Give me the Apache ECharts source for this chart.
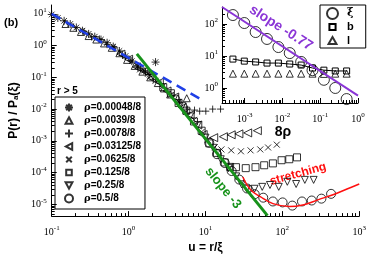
<!DOCTYPE html>
<html><head><meta charset="utf-8">
<script src="https://cdn.jsdelivr.net/npm/echarts@6/dist/echarts.min.js"></script>
<style>html,body{margin:0;padding:0;background:#fff}#c{width:369px;height:259px}</style>
</head><body><div id="c"></div>
<script>
// ---------- data (u = r/xi , P(r)/Pa(xi)) ----------
const seriesNames = ['ρ=0.00048/8','ρ=0.0039/8','ρ=0.0078/8','ρ=0.03125/8','ρ=0.0625/8','ρ=0.125/8','ρ=0.25/8','ρ=0.5/8'];
const sA = [[0.1,9.55],[0.12,7.41],[0.145,6.03],[0.174,4.79],[0.209,3.72],[0.251,2.95],[0.302,2.34],[0.363,1.91],[0.437,1.55],[0.525,1.23],[0.631,0.933],[0.759,0.676],[0.912,0.468],[1.10,0.324],[1.32,0.224],[1.58,0.162],[1.86,0.123],[2.24,0.302]];
const sB = [[0.151,4.79],[0.191,3.63],[0.24,2.69],[0.302,2.0],[0.38,1.55],[0.479,1.17],[0.603,0.851],[0.759,0.575],[0.955,0.355],[1.2,0.229],[1.51,0.151],[1.91,0.1],[2.4,0.0661],[2.88,0.0447],[3.47,0.0288],[4.37,0.022],[5.7,0.022]];
const sC = [[0.263,2.75],[0.331,1.86],[0.417,1.62],[0.525,1.07],[0.661,0.851],[0.832,0.49],[1.05,0.347],[1.32,0.2],[1.66,0.148],[2.09,0.0871],[2.63,0.0631],[3.16,0.0372],[3.8,0.0263],[4.57,0.0158],[5.85,0.01],[7.2,0.0093],[8.4,0.0086],[10.1,0.0086],[12.4,0.01],[15.7,0.01]];
const sD = [[0.794,0.537],[1.0,0.372],[1.26,0.214],[1.58,0.158],[2.0,0.0933],[2.51,0.0692],[3.16,0.0372],[3.98,0.024],[5.01,0.0112],[6.31,0.0066],[7.94,0.00316],[9.33,0.00158],[12.8,0.00126],[17.1,0.00135],[21.6,0.00155],[27.2,0.00166],[35.4,0.00178],[47.3,0.00209]];
const sE = [[1.41,0.178],[1.78,0.129],[2.24,0.0776],[2.82,0.0537],[3.55,0.0282],[4.47,0.017],[5.62,0.00813],[7.08,0.00457],[8.91,0.00191],[10.7,0.00107],[13.2,0.00063],[16.1,0.000537],[21.6,0.000501],[28.9,0.000468],[38.6,0.000501],[51.6,0.000537],[65.2,0.000617],[84.6,0.000759]];
const sF = [[2.82,0.049],[3.55,0.0316],[4.47,0.0155],[5.62,0.00891],[7.08,0.00407],[8.91,0.00209],[11.2,0.000832],[14.1,0.000417],[17.8,0.000209],[20.9,0.000151],[24.9,0.000148],[33.4,0.000138],[44.7,0.000148],[58,0.00017],[75.3,0.000195],[97.7,0.000245],[123,0.000263],[155,0.000302]];
const sG = [[5.01,0.0123],[6.31,0.00589],[7.94,0.00316],[10,0.00126],[12.6,0.000603],[15.8,0.000263],[20,0.000138],[25.1,0.0000759],[29.5,0.0000427],[34.4,0.0000309],[43.4,0.0000309],[54.7,0.0000355],[69,0.0000407],[89.7,0.0000355],[116,0.0000513],[151,0.0000437],[196,0.0000589],[255,0.0000589]];
const sH = [[11.2,0.00087],[14.1,0.00038],[17.8,0.0002],[21.9,0.000112],[27.5,0.0000603],[34.7,0.0000316],[43.7,0.0000209],[56.4,0.0000162],[75.3,0.0000123],[100.7,0.0000115],[134.6,0.00000912],[180,0.0000123],[241,0.0000132],[322,0.0000151],[430,0.0000214]];
const stretchCurve = [[30.6,7.24e-5],[38.6,2.88e-5],[51.6,1.74e-5],[75.3,1.05e-5],[123,8.51e-6],[191,9.77e-6],[295,1.41e-5],[456,2.0e-5],[706,3.09e-5],[1000,4.37e-5]];
const blueFit = [[0.1,10],[9.0,0.0195]];
const slope3Line = [[1.28,0.55],[64,4.4e-6]];
// inset: 8rho vs xi, b, l
const inset8rho = [0.000488,0.000977,0.00195,0.0039,0.0078,0.0156,0.03125,0.0625,0.125,0.25,0.5];
const insetXi = [190,107,56,34,19,12.3,6.5,3.6,1.8,1.0,0.45];
const insetB = [8.0,6.9,6.5,6.0,6.0,5.6,5.2,4.2,3.6,3.4,3.4];
const insetL = [2.8,2.8,2.8,2.8,2.8,2.8,2.8,2.8,2.75,2.8,2.8];
const slope077Line = [[0.000251,339],[1.0,0.575]];
// axis ranges and major ticks
const mainXRange = [0.1, 1000];
const mainYRange = [4.26e-6, 19.0];
const insetXRange = [0.000251, 1];
const insetYRange = [0.339, 339];
const mainXTicks = [0.1,1,10,100,1000];
const mainYTicks = [1e-5,1e-4,1e-3,1e-2,1e-1,1,10];
const insetXTicks = [1e-3,1e-2,1e-1,1];
const insetYTicks = [1,10,100];

// ---------- helpers ----------
const L = Math.log10;
const tp = arr => arr.map(([u,p]) => [L(u), L(p)]);
const zipLog = (xs, ys) => xs.map((x,i) => [L(x), L(ys[i])]);
function minorTicks(lo, hi){
  const out=[];
  for(let e=Math.floor(lo)-1; e<=Math.ceil(hi); e++){
    for(let k=2;k<=9;k++){ const v=e+L(k); if(v>=lo-1e-9 && v<=hi+1e-9) out.push(v); }
  }
  return out;
}
const supLabel = v => '{b|10}{s|' + Math.round(v) + '}';
const tickRich = {
  b:{fontFamily:'Liberation Serif', fontSize:10, color:'#000', lineHeight:14},
  s:{fontFamily:'Liberation Serif', fontSize:7, color:'#000', verticalAlign:'top', lineHeight:8}
};
function axes(gridIndex, range, ticks, position, margin, nameOpts){
  const lo=L(range[0]), hi=L(range[1]);
  const majors = ticks.map(L);
  const major = Object.assign({
    type:'value', gridIndex, min:lo, max:hi, position,
    axisLine:{show:true, onZero:false, lineStyle:{color:'#000', width:1}},
    axisTick:{show:true, inside:true, length:5, customValues:majors, lineStyle:{color:'#000', width:1}},
    axisLabel:{show:true, customValues:majors, formatter:supLabel, rich:tickRich, margin},
    splitLine:{show:false}
  }, nameOpts||{});
  const minor = {
    type:'value', gridIndex, min:lo, max:hi, position,
    axisLine:{show:false, onZero:false},
    axisTick:{show:true, inside:true, length:3, customValues:minorTicks(lo,hi), lineStyle:{color:'#000', width:1}},
    axisLabel:{show:false}, splitLine:{show:false}
  };
  return [major, minor];
}

const hollow = {color:'rgba(0,0,0,0)', borderColor:'#000', borderWidth:1};
const SYM = {
  asterisk:'path://M0,5L10,5M5,0L5,10M1.5,1.5L8.5,8.5M8.5,1.5L1.5,8.5',
  plus:'path://M0,5L10,5M5,0L5,10',
  cross:'path://M0,0L10,10M10,0L0,10'
};
const mainSpecs = [
  [sA, SYM.asterisk, 8, 0],
  [sB, 'triangle', 7, 0],
  [sC, SYM.plus, 7, 0],
  [sD, 'triangle', 8, 90],
  [sE, SYM.cross, 6, 0],
  [sF, 'rect', 7, 0],
  [sG, 'triangle', 7, 180],
  [sH, 'circle', 9, 0]
];
// legend icons (same shapes, drawn inside a 10x10 box)
const legendIcons = [
  SYM.asterisk,
  'path://M0,0M10,10M5,1L9.3,9L0.7,9Z',
  SYM.plus,
  'path://M0,0M10,10M9,0.7L9,9.3L1,5Z',
  'path://M0,0M10,10M1.5,1.5L8.5,8.5M8.5,1.5L1.5,8.5',
  'path://M0,0M10,10M1.5,1.5L8.5,1.5L8.5,8.5L1.5,8.5Z',
  'path://M0,0M10,10M0.7,1L9.3,1L5,9Z',
  'circle'
];
const series = mainSpecs.map(([d, sym, size, rot], i) => ({
  type:'scatter', name:seriesNames[i], xAxisIndex:0, yAxisIndex:0,
  data:tp(d), symbol:sym, symbolSize:size, symbolRotate:rot,
  itemStyle:hollow, z:2, silent:true
}));
series.push(
  {type:'line', name:'fit', xAxisIndex:0, yAxisIndex:0, data:tp(blueFit), symbol:'none', z:5, silent:true,
   lineStyle:{color:'#1f3fe6', width:2.5, type:[10,6]}},
  {type:'line', name:'slope -3', xAxisIndex:0, yAxisIndex:0, data:tp(slope3Line), symbol:'none', z:5, silent:true,
   lineStyle:{color:'#17921a', width:3}},
  {type:'line', name:'stretching', xAxisIndex:0, yAxisIndex:0, data:tp(stretchCurve), symbol:'none', smooth:0.4, z:5, silent:true,
   lineStyle:{color:'#ff1010', width:1.5}},
  {type:'scatter', name:'ξ', xAxisIndex:2, yAxisIndex:2, data:zipLog(inset8rho, insetXi), symbol:'circle', symbolSize:11, itemStyle:hollow, z:3, silent:true},
  {type:'line', name:'b', xAxisIndex:2, yAxisIndex:2, data:zipLog(inset8rho, insetB), symbol:'rect', symbolSize:6, showSymbol:true, itemStyle:hollow, lineStyle:{color:'#000', width:1}, z:3, silent:true},
  {type:'scatter', name:'l', xAxisIndex:2, yAxisIndex:2, data:zipLog(inset8rho, insetL), symbol:'triangle', symbolSize:7, itemStyle:hollow, z:3, silent:true},
  {type:'line', name:'slope -0.77', xAxisIndex:2, yAxisIndex:2, data:tp(slope077Line), symbol:'none', z:4, silent:true,
   lineStyle:{color:'#8a35d6', width:2}}
);

const [mx, mxm] = axes(0, mainXRange, mainXTicks, 'bottom', 9, {
  name:'u = r/ξ', nameLocation:'middle', nameGap:24,
  nameTextStyle:{fontFamily:'Liberation Sans', fontWeight:'bold', fontSize:12, color:'#000'}
});
const [my, mym] = axes(0, mainYRange, mainYTicks, 'left', 5, {
  name:'P(r) / P{sub|a}(ξ)', nameLocation:'middle', nameGap:27, nameRotate:90,
  nameTextStyle:{fontFamily:'Liberation Sans', fontWeight:'bold', fontSize:12, color:'#000',
    rich:{sub:{fontFamily:'Liberation Sans', fontWeight:'bold', fontSize:8, verticalAlign:'bottom', color:'#000'}}}
});
const [ix, ixm] = axes(1, insetXRange, insetXTicks, 'bottom', 9, {
  name:'8ρ', nameLocation:'middle', nameGap:21,
  nameTextStyle:{fontFamily:'Liberation Sans', fontWeight:'bold', fontSize:14, color:'#000', padding:[0,14,0,0]}
});
const [iy, iym] = axes(1, insetYRange, insetYTicks, 'left', 4);

const legendFont = {fontFamily:'Liberation Sans', fontWeight:'bold', fontSize:10, color:'#000', lineHeight:13,
  rich:{
    g:{fontFamily:'DejaVu Serif', fontSize:10, color:'#000', lineHeight:13, padding:[0,0,0,6]},
    t:{fontFamily:'Liberation Sans', fontWeight:'bold', fontSize:10, color:'#000', lineHeight:13}
  }};
const insetLegendFont = {fontFamily:'Liberation Sans', fontWeight:'bold', fontSize:11, color:'#000', lineHeight:13,
  rich:{
    x:{fontFamily:'DejaVu Serif', fontSize:11, color:'#000', lineHeight:13, padding:[0,0,0,4]},
    t:{fontFamily:'Liberation Sans', fontWeight:'bold', fontSize:11, color:'#000', lineHeight:13, padding:[0,0,0,4]}
  }};

const option = {
  animation:false,
  backgroundColor:'#fff',
  grid:[
    {left:45, right:7, top:5, bottom:39},
    {left:222, right:11, top:7, bottom:156}
  ],
  xAxis:[mx, mxm, ix, ixm],
  yAxis:[my, mym, iy, iym],
  legend:[
    {data:seriesNames.map((n,i) => ({name:n, icon:legendIcons[i]})),
     orient:'vertical', left:55, top:97, itemWidth:8, itemHeight:8, itemGap:0,
     padding:[4,4,4,9], borderColor:'#000', borderWidth:1, selectedMode:false,
     formatter: n => '{g|ρ}{t|' + n.slice(1) + '}', textStyle:legendFont},
    {data:[
      {name:'ξ', icon:'circle'},
      {name:'b', icon:'path://M0,0M10,10M2.2,2.2L7.8,2.2L7.8,7.8L2.2,7.8Z'},
      {name:'l', icon:'path://M0,0M10,10M5,1.8L8.6,8.2L1.4,8.2Z'}
     ], orient:'vertical', left:320, top:5, itemWidth:11, itemHeight:11, itemGap:0.5,
     padding:[2,12,1,6], borderColor:'#000', borderWidth:1, selectedMode:false,
     formatter: n => n === 'ξ' ? '{x|ξ}' : '{t|' + n + '}', textStyle:insetLegendFont}
  ],
  graphic:[
    {type:'text', x:4, y:23, style:{text:'(b)', font:'bold 11px "Liberation Sans"', fill:'#000', align:'left', verticalAlign:'middle'}},
    {type:'text', x:57, y:91, style:{text:'r > 5', font:'bold 10px "Liberation Sans"', fill:'#000', align:'left', verticalAlign:'middle'}},
    {type:'text', x:223, y:188, rotation:-0.89, style:{text:'slope -3', font:'bold 13px "Liberation Sans"', fill:'#17921a', align:'center', verticalAlign:'middle'}},
    {type:'text', x:298, y:174, rotation:0.27, style:{text:'stretching', font:'bold 12px "Liberation Sans"', fill:'#ff1010', align:'center', verticalAlign:'middle'}},
    {type:'text', x:281, y:28, rotation:-0.57, style:{text:'slope -0.77', font:'bold 14px "Liberation Sans"', fill:'#8a35d6', align:'center', verticalAlign:'middle'}}
  ],
  series
};
const chart = echarts.init(document.getElementById('c'), null, {renderer:'canvas'});
chart.setOption(option);
</script></body></html>
